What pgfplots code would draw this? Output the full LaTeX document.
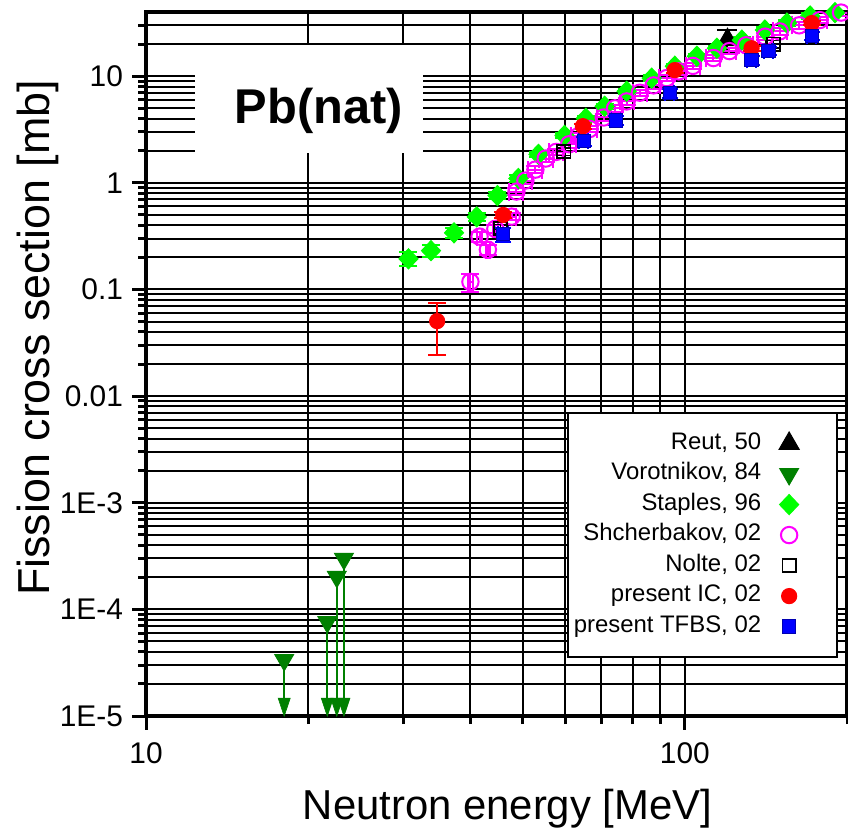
\documentclass[border=0pt]{standalone}
\usepackage{fontspec}
\setmainfont{Liberation Sans}
\usepackage{pgfplots}
\pgfplotsset{compat=1.18}
\definecolor{vgreen}{RGB}{0,128,0}
\definecolor{sgreen}{RGB}{0,255,0}
\definecolor{smag}{RGB}{255,0,255}
\begin{document}
\begin{tikzpicture}
\begin{loglogaxis}[
  scale only axis, width=350.5bp, height=352bp,
  xmin=10, xmax=200, ymin=1e-5, ymax=40,
  xtick={10,100}, xticklabels={10,100},
  minor xtick={20,30,40,50,60,70,80,90,200},
  ytick={1e-5,1e-4,1e-3,0.01,0.1,1,10},
  yticklabels={1E-5,1E-4,1E-3,0.01,0.1,1,10},
  minor ytick={2e-5,3e-5,4e-5,5e-5,6e-5,7e-5,8e-5,9e-5,
               2e-4,3e-4,4e-4,5e-4,6e-4,7e-4,8e-4,9e-4,
               0.002,0.003,0.004,0.005,0.006,0.007,0.008,0.009,
               0.02,0.03,0.04,0.05,0.06,0.07,0.08,0.09,
               0.2,0.3,0.4,0.5,0.6,0.7,0.8,0.9,
               2,3,4,5,6,7,8,9,20,30},
  grid=both,
  major grid style={black, line width=1bp},
  minor grid style={black, line width=1bp},
  axis line style={line width=2bp},
  tick style={black, line width=1.5bp},
  major tick length=7bp, minor tick length=4bp,
  tick align=outside, xtick pos=bottom, ytick pos=left,
  ticklabel style={font=\fontsize{15}{18}\selectfont},
  xticklabel style={anchor=base, yshift=-17bp},
  yticklabel style={xshift=-1bp},
  xlabel={Neutron energy [MeV]},
  ylabel={Fission cross section [mb]},
  xlabel style={at={(axis description cs:0.5157,-0.1477)}, anchor=base,
                font=\fontsize{21}{25}\selectfont},
  ylabel style={at={(axis description cs:-0.137,0.537)}, anchor=base,
                font=\fontsize{22.5}{27}\selectfont},
  legend plot pos=right, legend cell align=right,
  legend image code/.code={\draw[#1] plot coordinates {(8.5bp,0bp)};
                           \path (0bp,0bp) (30bp,0bp);},
  legend style={at={(rel axis cs:0.987,0.431)}, anchor=north east,
                draw=black, line width=0.75bp, fill=white,
                font=\fontsize{12}{14}\selectfont,
                inner xsep=2bp, inner ysep=9bp, row sep=3bp,
                nodes={inner xsep=1bp, inner ysep=0bp, text height=9bp, text depth=3.25bp},
                /tikz/every odd column/.style={column sep=4bp}},
]

% Reut, 50
\addplot[only marks, mark=triangle*, mark size=5.8bp, black, line width=0.5bp,
  error bars/.cd, y dir=both, y explicit,
  error bar style={black, line width=1bp},
  error mark options={rotate=90, black, mark size=5bp, line width=1bp}]
  coordinates {(120,21.9) +- (0,5.5)};
\addlegendentry{Reut, 50}

% Vorotnikov, 84 (upper limits, shafts down to the arrowheads)
\addplot[only marks, mark=triangle*, mark size=5.4bp, vgreen, line width=0.5bp,
  mark options={rotate=180},
  error bars/.cd, y dir=minus, y explicit,
  error bar style={vgreen, line width=1.2bp}, error mark=none]
  coordinates {
    (18.05,3.35e-5) +- (0,2.06e-5)
    (21.7,7.6e-5)   +- (0,6.31e-5)
    (22.6,2.02e-4)  +- (0,1.891e-4)
    (23.3,2.98e-4)  +- (0,2.851e-4)
  };
\addlegendentry{Vorotnikov, 84}
\addplot[only marks, forget plot, mark=triangle*, mark size=6bp, vgreen, line width=0.3bp,
  mark options={rotate=180, xscale=0.58}]
  coordinates {(18.05,1.29e-5) (21.7,1.29e-5) (22.6,1.29e-5) (23.3,1.29e-5)};

% Staples, 96
\addplot[only marks, mark=diamond*, mark size=5.3bp, sgreen, line width=0.5bp,
  mark options={xscale=1.2, yscale=0.95},
  error bars/.cd, y dir=both, y explicit relative,
  error bar style={sgreen, line width=1bp},
  error mark options={rotate=90, sgreen, mark size=4.5bp, line width=1bp}]
  coordinates {
    (30.7,0.194) +- (0,0.15)
    (33.8,0.231) +- (0,0.12)
    (37.3,0.34)  +- (0,0.10)
    (41.1,0.48)  +- (0,0.08)
    (44.9,0.76)  +- (0,0.07)
    (49.1,1.10)  +- (0,0.07)
    (53.5,1.85)  +- (0,0.06)
    (59.8,2.78)  +- (0,0.06)
    (65.5,4.03)  +- (0,0.06)
    (71.0,5.22)  +- (0,0.06)
    (78.0,7.22)  +- (0,0.06)
    (86.8,9.58)  +- (0,0.06)
    (95.8,12.4)  +- (0,0.06)
    (105.3,15.4) +- (0,0.06)
    (114.7,18.3) +- (0,0.06)
    (127.6,21.8) +- (0,0.06)
    (140.8,27.1) +- (0,0.06)
    (154.7,31.5) +- (0,0.06)
    (170.8,36.7) +- (0,0.06)
    (190,39.5)   +- (0,0.06)
  };
\addlegendentry{Staples, 96}

% Shcherbakov, 02
\addplot[only marks, mark=o, mark size=4.1bp, smag, line width=1bp,
  error bars/.cd, x dir=both, x explicit relative, y dir=both, y explicit relative,
  error bar style={smag, line width=1bp},
  error mark options={rotate=90, smag, mark size=4.5bp, line width=1bp}]
  coordinates {
    (40.0,0.118) +- (0.01,0.19)
    (41.6,0.313) +- (0.01,0.10)
    (43.1,0.236) +- (0.01,0.10)
    (44.5,0.37)  +- (0.01,0.08)
    (47.7,0.482) +- (0.02,0.08)
    (48.7,0.828) +- (0.03,0.07)
    (50.6,1.05)  +- (0.03,0.07)
    (52.8,1.33)  +- (0.03,0.07)
    (55.2,1.69)  +- (0.03,0.07)
    (57.7,1.95)  +- (0.03,0.07)
    (61.0,2.3)   +- (0.03,0.07)
    (63.5,2.75)  +- (0.03,0.07)
    (66.6,3.2)   +- (0.03,0.07)
    (70.7,4.1)   +- (0.03,0.07)
    (74.2,5.0)   +- (0.03,0.07)
    (78.0,5.8)   +- (0.03,0.07)
    (82.5,7.0)   +- (0.03,0.07)
    (87.5,8.2)   +- (0.03,0.07)
    (92.5,9.6)   +- (0.03,0.07)
    (97.5,11.1)  +- (0.03,0.07)
    (103.5,12.5) +- (0.03,0.07)
    (113,14.8)   +- (0.03,0.07)
    (121,17.2)   +- (0.03,0.07)
    (130,19.5)   +- (0.03,0.07)
    (141,23.5)   +- (0.03,0.07)
    (150,26.3)   +- (0.03,0.07)
    (163,30.0)   +- (0.03,0.07)
    (178,33.6)   +- (0.03,0.07)
    (195,39.5)   +- (0.03,0.07)
  };
\addlegendentry{Shcherbakov, 02}

% Nolte, 02
\addplot[only marks, mark=square, mark size=3.3bp, black, line width=0.8bp,
  error bars/.cd, x dir=both, x explicit relative, y dir=both, y explicit relative,
  error bar style={black, line width=0.8bp},
  error mark options={rotate=90, black, mark size=3.5bp, line width=0.8bp}]
  coordinates {
    (45.5,0.37) +- (0.03,0.10)
    (59.6,1.97) +- (0.03,0.08)
    (146,20.0)  +- (0.03,0.08)
  };
\addlegendentry{Nolte, 02}

% present IC, 02
\addplot[only marks, mark=*, mark size=3.8bp, red, line width=0.5bp,
  error bars/.cd, y dir=both, y explicit,
  error bar style={red, line width=1bp},
  error mark options={rotate=90, red, mark size=4.5bp, line width=1bp}]
  coordinates {
    (34.7,0.0505) += (0,0.0245) -= (0,0.026)
    (46.0,0.50)   +- (0,0.03)
    (64.7,3.4)    +- (0,0.2)
    (95.8,11.4)   +- (0,0.6)
    (133,18.3)    +- (0,1.0)
    (172,31.5)    +- (0,1.6)
  };
\addlegendentry{present IC, 02}

% present TFBS, 02
\addplot[only marks, mark=square*, mark size=3.3bp, blue,
  mark options={fill=blue, draw=blue!70!black, line width=0.5bp},
  error bars/.cd, x dir=both, x explicit relative, y dir=both, y explicit relative,
  error bar style={blue, line width=1bp},
  error mark options={rotate=90, blue, mark size=4bp, line width=1bp}]
  coordinates {
    (46.0,0.33)  +- (0.02,0.15)
    (64.9,2.45)  +- (0.02,0.09)
    (74.6,3.85)  +- (0.02,0.09)
    (93.8,6.9)   +- (0.02,0.09)
    (133,14.1)   +- (0.02,0.09)
    (143,17.2)   +- (0.02,0.09)
    (172,23.8)   +- (0.02,0.09)
  };
\addlegendentry{present TFBS, 02}

% label panel
\fill[white] (rel axis cs:0.0699,0.7997) rectangle (rel axis cs:0.395,0.953);
\node[anchor=base, font=\fontsize{24.5}{29}\selectfont\bfseries]
  at (rel axis cs:0.2468,0.842) {Pb(nat)};
\end{loglogaxis}
\pgfresetboundingbox
\path[use as bounding box] (-73bp,-60.5bp) rectangle (351bp,358bp);
\end{tikzpicture}
\end{document}
